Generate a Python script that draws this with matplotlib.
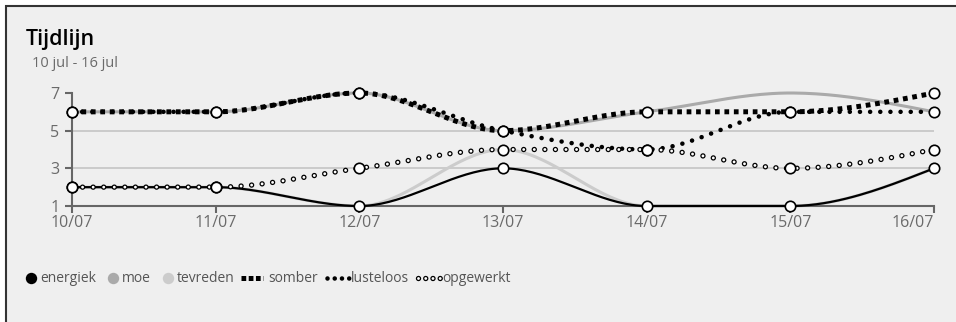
#grafiek tijdlijn van stemmingen per dag
import numpy as np
import matplotlib
matplotlib.use("Agg")
import matplotlib.pyplot as plt
from matplotlib.patches import Rectangle

plt.rcParams['font.family'] = ['Open Sans', 'DejaVu Sans']
plt.rcParams['lines.scale_dashes'] = False

#data van de grafiek
dagen = ['10/07', '11/07', '12/07', '13/07', '14/07', '15/07', '16/07']
energiek = [2, 2, 1, 3, 1, 1, 3]
moe = [6, 6, 7, 5, 6, 7, 6]
tevreden = [2, 2, 1, 4, 1, 1, 3]
somber = [6, 6, 7, 5, 6, 6, 7]
lusteloos = [6, 6, 7, 5, 4, 6, 6]
opgewerkt = [2, 2, 3, 4, 4, 3, 4]
y_ticks = [1, 3, 5, 7]

TEKST = '#6a6a6a'
AS = '#666666'


#monotone kromme zoals d3 curveMonotoneX
def monotone(xs, ys, stappen=40):
    xs = np.asarray(xs, float)
    ys = np.asarray(ys, float)
    h = np.diff(xs)
    s = np.diff(ys) / h
    m = np.zeros(len(xs))
    for i in range(1, len(xs) - 1):
        p = (s[i - 1] * h[i] + s[i] * h[i - 1]) / (h[i - 1] + h[i])
        m[i] = (np.sign(s[i - 1]) + np.sign(s[i])) * min(abs(s[i - 1]), abs(s[i]), 0.5 * abs(p))
    m[0] = (3 * s[0] - m[1]) / 2
    m[-1] = (3 * s[-1] - m[-2]) / 2
    px, py = [], []
    for i in range(len(xs) - 1):
        t = np.linspace(0, 1, stappen)
        h00 = 2 * t**3 - 3 * t**2 + 1
        h10 = t**3 - 2 * t**2 + t
        h01 = -2 * t**3 + 3 * t**2
        h11 = t**3 - t**2
        px.extend(xs[i] + t * h[i])
        py.extend(h00 * ys[i] + h10 * h[i] * m[i] + h01 * ys[i + 1] + h11 * h[i] * m[i + 1])
    return np.array(px), np.array(py)


W, H = 956, 322
fig = plt.figure(figsize=(W / 100, H / 100), dpi=100, facecolor='white')

#achtergrond en kader in pixel coordinaten
bg = fig.add_axes([0, 0, 1, 1], zorder=0)
bg.set_xlim(0, W)
bg.set_ylim(H, 0)
bg.axis('off')
bg.add_patch(Rectangle((6, 6), W + 20, H + 20, facecolor='#efefef', edgecolor='#333333', lw=1.5))

bg.text(26, 45, 'Tijdlijn', fontsize=15.5, color='black', va='baseline', ha='left', fontweight='semibold')
bg.text(32, 67, '10 jul - 16 jul', fontsize=10.5, color=TEKST, va='baseline', ha='left', fontweight='medium')

#hoofdas
x0, x1, ytop, ybot = 72, 934, 93, 206
ax = fig.add_axes([x0 / W, 1 - ybot / H, (x1 - x0) / W, (ybot - ytop) / H], zorder=1)
ax.patch.set_alpha(0)
x = np.arange(len(dagen))
ax.set_xlim(0, len(dagen) - 1)
ax.set_ylim(1, 7)

for yv in [3, 5]:
    ax.axhline(yv, color='#c8c8c8', lw=1.3, zorder=1)

for s in ['top', 'right']:
    ax.spines[s].set_visible(False)
for s in ['left', 'bottom']:
    ax.spines[s].set_color(AS)
    ax.spines[s].set_linewidth(1.5)

ax.set_xticks(x)
ax.set_xticklabels(dagen)
ax.set_yticks(y_ticks)
ax.tick_params(colors=AS, labelcolor=TEKST, labelsize=11.5, length=5, width=1.5, pad=1.5)
ax.tick_params(axis='y', pad=4)
ax.get_xticklabels()[-1].set_ha('right')

#lijnen
kx, ky = monotone(x, moe)
ax.plot(kx, ky, color='#aaaaaa', lw=2.2, zorder=2, clip_on=False)
kx, ky = monotone(x, tevreden)
ax.plot(kx, ky, color='#cccccc', lw=2.2, zorder=2, clip_on=False)
kx, ky = monotone(x, energiek)
ax.plot(kx, ky, color='black', lw=1.6, zorder=3, clip_on=False)
kx, ky = monotone(x, somber)
ax.plot(kx, ky, color='black', lw=3.6, dashes=(3.4, 3.4), dash_capstyle='butt', zorder=4, clip_on=False)
kx, ky = monotone(x, lusteloos)
ax.plot(kx, ky, color='black', lw=3.3, dashes=(0.01, 7.3), dash_capstyle='round', zorder=4, clip_on=False)
kx, ky = monotone(x, opgewerkt)
ax.plot(kx, ky, color='black', lw=3.9, dashes=(0.01, 7.6), dash_capstyle='round', zorder=5, clip_on=False)
ax.plot(kx, ky, color='white', lw=2.1, dashes=(0.01, 7.6), dash_capstyle='round', zorder=5, clip_on=False)

#punten
for reeks in [energiek, somber, lusteloos, opgewerkt]:
    ax.plot(x, reeks, ls='none', marker='o', ms=7.5, mfc='white', mec='black', mew=1.2, zorder=6, clip_on=False)

#legenda
ly = 278
for cx, kleur, naam in [(31, 'black', 'energiek'), (113, '#aaaaaa', 'moe'), (168, '#cccccc', 'tevreden')]:
    bg.plot([cx], [ly], marker='o', ms=8.2, color=kleur, mec='none')
    bg.text(cx + 9, ly, naam, fontsize=10, color='#555555', va='center', ha='left', fontweight='medium')

bg.plot([241, 263], [ly, ly], color='black', lw=3.6, dashes=(3.4, 1.8), dash_capstyle='butt')
bg.text(268, ly, 'somber', fontsize=10, color='#555555', va='center', ha='left', fontweight='medium')
bg.plot([327, 349], [ly, ly], color='black', lw=3.3, dashes=(0.01, 5.2), dash_capstyle='round')
bg.text(351, ly, 'lusteloos', fontsize=10, color='#555555', va='center', ha='left', fontweight='medium')
bg.plot([418, 440], [ly, ly], color='black', lw=3.9, dashes=(0.01, 5.2), dash_capstyle='round')
bg.plot([418, 440], [ly, ly], color='white', lw=2.1, dashes=(0.01, 5.2), dash_capstyle='round')
bg.text(442, ly, 'opgewerkt', fontsize=10, color='#555555', va='center', ha='left', fontweight='medium')

fig.savefig('out.png', dpi=100, facecolor='white')
